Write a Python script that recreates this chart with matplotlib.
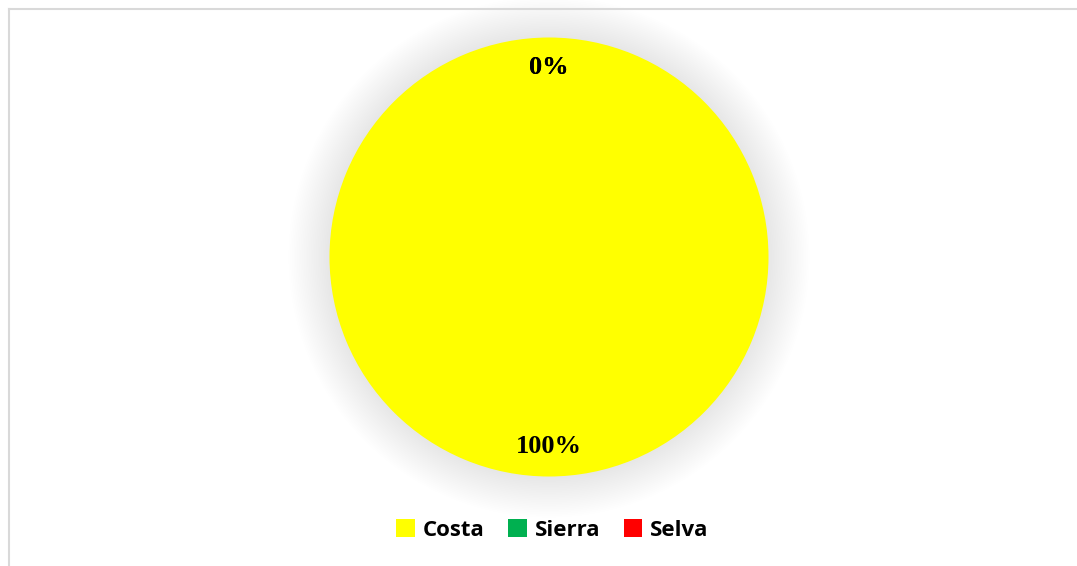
import matplotlib
matplotlib.use("Agg")
import matplotlib.pyplot as plt
from matplotlib.patches import Circle, Patch
from matplotlib.lines import Line2D

categories = ["Costa", "Sierra", "Selva"]
values = [100, 0, 0]
colors = ["#FFFF00", "#00B050", "#FF0000"]

W, H = 1077, 566
fig = plt.figure(figsize=(W / 100, H / 100), dpi=100)
fig.patch.set_facecolor("white")

# pie geometry (pixels)
cx, cy_top, r_px = 549, 257, 219.5
lim = 1.22
half = r_px * lim
ax = fig.add_axes([(cx - half) / W, (H - cy_top - half) / H, 2 * half / W, 2 * half / H])
ax.set_xlim(-lim, lim)
ax.set_ylim(-lim, lim)
ax.axis("off")

# soft glow shadow
n = 24
for k in range(n, 0, -1):
    rr = 1.0 + 0.0078 * k
    ax.add_patch(Circle((0, 0.0), rr, facecolor="black", edgecolor="none",
                        alpha=0.0055, zorder=0, clip_on=False))

wedges, texts, autotexts = ax.pie(
    values, colors=colors, startangle=90, counterclock=False, radius=1.0,
    autopct="%1.0f%%", pctdistance=0.865,
    wedgeprops=dict(edgecolor="none", linewidth=0),
    textprops=dict(fontsize=19, fontweight="bold", family="Liberation Serif", color="black"),
    frame=False,
)
for w in wedges:
    w.set_zorder(2)
for t in autotexts:
    t.set_zorder(3)
ax.set_xlim(-lim, lim)
ax.set_ylim(-lim, lim)
ax.set_aspect("auto")

handles = [Patch(facecolor=c, edgecolor="none") for c in colors]
fig.legend(handles, categories, loc="center", bbox_to_anchor=(0.513, 0.064), ncol=3,
           frameon=False, handlelength=0.85, handleheight=0.85, handletextpad=0.35,
           columnspacing=1.05,
           prop=dict(family="Open Sans", weight="bold", size=16))

# chart border (top and left visible)
fig.add_artist(Line2D([8.5 / W, 8.5 / W], [0, 1 - 8.5 / H], transform=fig.transFigure,
                      color="#d9d9d9", lw=1.5))
fig.add_artist(Line2D([8.5 / W, 1], [1 - 8.5 / H, 1 - 8.5 / H], transform=fig.transFigure,
                      color="#d9d9d9", lw=1.5))

fig.savefig("out.png", dpi=100, facecolor="white")
